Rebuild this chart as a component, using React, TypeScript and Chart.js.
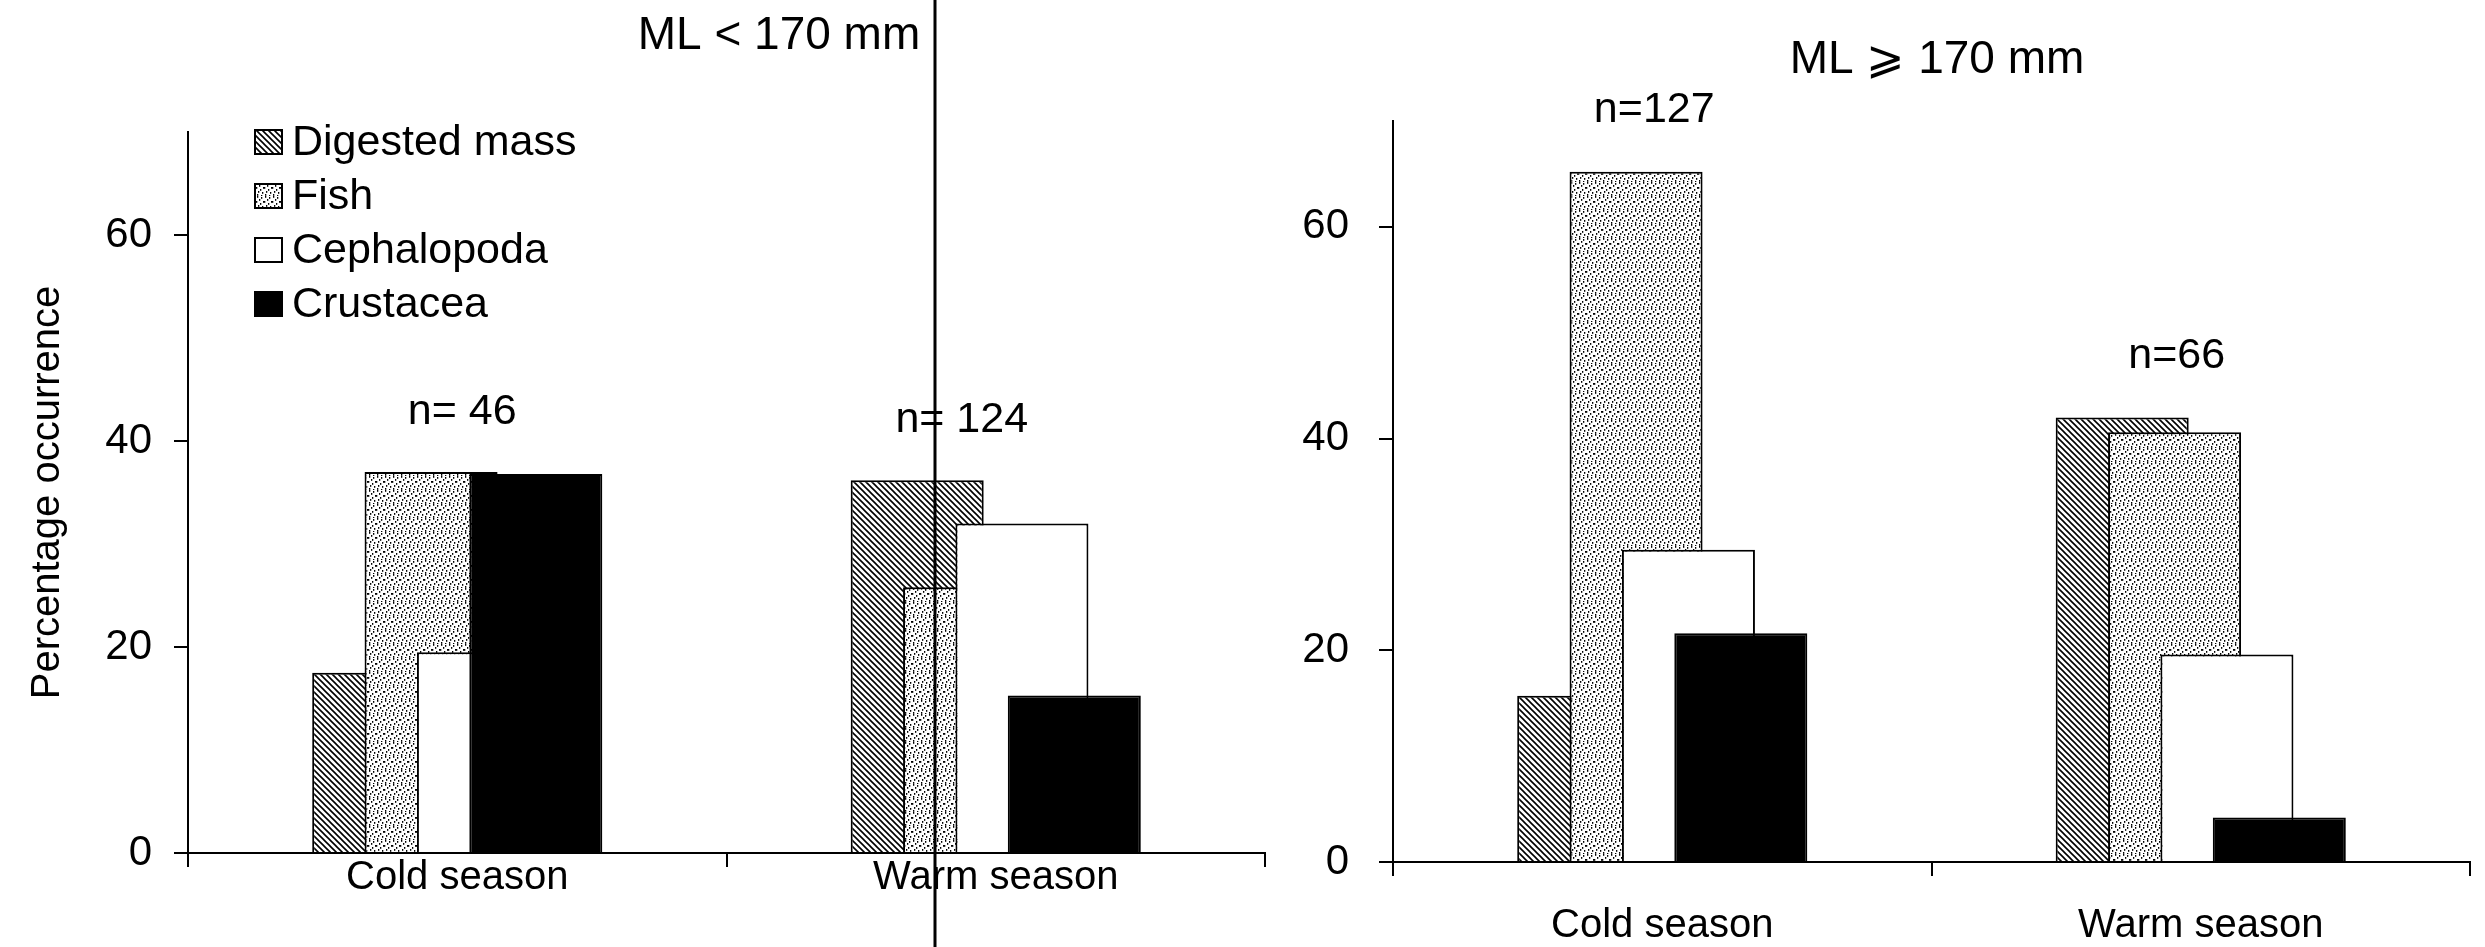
import React, { useEffect, useRef } from 'react';
import { Chart, registerables } from 'chart.js';

Chart.register(...registerables);

// ---------------- data ----------------
const categories = ['Cold season', 'Warm season'];
const seriesNames = ['Digested mass', 'Fish', 'Cephalopoda', 'Crustacea'];

// ML < 170 mm
const smallDigested = [17.5, 36.2];
const smallFish = [37.0, 25.8];
const smallCephalopoda = [19.5, 32.0];
const smallCrustacea = [36.8, 15.3];
const smallSampleSizes = ['n= 46', 'n= 124'];

// ML >= 170 mm
const largeDigested = [15.7, 42.0];
const largeFish = [65.2, 40.6];
const largeCephalopoda = [29.5, 19.6];
const largeCrustacea = [21.6, 4.2];
const largeSampleSizes = ['n=127', 'n=66'];

const yTickValues = [0, 20, 40, 60];
const yMax = 70;
const smallTitle = 'ML < 170 mm';
const largeTitle = 'ML \u2A7E 170 mm';
const yAxisTitle = 'Percentage occurrence';

// ---------------- styling ----------------
const FONT = '"Liberation Sans", Arial, Helvetica, sans-serif';
const N_OFFSET = 5.8; // value units above tallest bar of the group

function makeHatch(): CanvasPattern | string {
  const c = document.createElement('canvas');
  c.width = 6;
  c.height = 6;
  const g = c.getContext('2d');
  if (!g) return '#888';
  g.fillStyle = '#fff';
  g.fillRect(0, 0, 6, 6);
  g.strokeStyle = '#000';
  g.lineWidth = 1.6;
  g.beginPath();
  g.moveTo(-1, -1);
  g.lineTo(7, 7);
  g.moveTo(-1, 5);
  g.lineTo(1, 7);
  g.moveTo(5, -1);
  g.lineTo(7, 1);
  g.stroke();
  return g.createPattern(c, 'repeat') || '#888';
}

const dotCells = [
  [1, 0], [5, 1], [3, 3], [7, 5], [0, 5], [4, 7], [2, 9], [6, 10], [1, 12], [5, 13],
];

function makeDots(): CanvasPattern | string {
  const c = document.createElement('canvas');
  c.width = 8;
  c.height = 14;
  const g = c.getContext('2d');
  if (!g) return '#ddd';
  g.fillStyle = '#fff';
  g.fillRect(0, 0, 8, 14);
  g.fillStyle = '#000';
  dotCells.forEach(([x, y]) => g.fillRect(x, y, 1.3, 1.8));
  return g.createPattern(c, 'repeat') || '#ddd';
}

type PanelSpec = {
  canvasLeft: number;
  canvasWidth: number;
  padLeft: number;
  yAxisWidth: number;
  padRight: number;
  padTop: number;
  xAxisHeight: number;
  tickPadding: number;
  xLabelPadding: number;
  series: number[][];
  sampleSizes: string[];
  sampleShift: number[];
  title: string;
  titleX: number;
  titleY: number;
  showYTitle: boolean;
  showLegend: boolean;
  scanLineX?: number;
};

const HEIGHT = 947;

function Panel({ spec }: { spec: PanelSpec }) {
  const ref = useRef<HTMLCanvasElement | null>(null);

  useEffect(() => {
    const canvas = ref.current;
    if (!canvas) return;
    const fills = [makeHatch(), makeDots(), '#ffffff', '#000000'];

    const decor = {
      id: 'panelDecor',
      beforeDatasetsDraw(chart: any) {
        // draw datasets in order so later series overlap earlier ones
        for (let i = 0; i < chart.data.datasets.length; i++) {
          const meta = chart.getDatasetMeta(i);
          if (!meta.hidden) meta.controller.draw();
        }
        return false;
      },
      afterDraw(chart: any) {
        const ctx = chart.ctx as CanvasRenderingContext2D;
        const xs = chart.scales.x;
        const ys = chart.scales.y;
        ctx.save();
        ctx.fillStyle = '#000';
        ctx.textAlign = 'center';
        ctx.textBaseline = 'middle';

        // sample sizes
        ctx.font = `43px ${FONT}`;
        spec.sampleSizes.forEach((label, i) => {
          const top = Math.max(...spec.series.map((s) => s[i]));
          ctx.fillText(
            label,
            xs.getPixelForValue(i) + spec.sampleShift[i],
            ys.getPixelForValue(top + N_OFFSET)
          );
        });

        // panel title
        ctx.font = `46px ${FONT}`;
        ctx.fillText(spec.title, spec.titleX, spec.titleY);

        // legend
        if (spec.showLegend) {
          const bx = chart.chartArea.left + 67;
          const by0 = 142;
          const step = 54;
          ctx.textAlign = 'left';
          ctx.font = `43px ${FONT}`;
          chart.data.datasets.forEach((ds: any, i: number) => {
            const cy = by0 + i * step;
            ctx.fillStyle = ds.backgroundColor;
            ctx.fillRect(bx, cy - 12, 27, 24);
            ctx.strokeStyle = '#000';
            ctx.lineWidth = 2;
            ctx.strokeRect(bx, cy - 12, 27, 24);
            ctx.fillStyle = '#000';
            ctx.fillText(ds.label, bx + 37, cy + 1);
          });
        }

        // scan fold line
        if (spec.scanLineX !== undefined) {
          ctx.strokeStyle = '#000';
          ctx.lineWidth = 3;
          ctx.beginPath();
          ctx.moveTo(spec.scanLineX, 0);
          ctx.lineTo(spec.scanLineX, HEIGHT);
          ctx.stroke();
        }
        ctx.restore();
      },
    };

    const chart = new Chart(canvas, {
      type: 'bar',
      data: {
        labels: categories,
        datasets: seriesNames.map((name, k) => ({
          label: name,
          data: spec.series[k],
          backgroundColor: fills[k] as any,
          borderColor: '#000',
          borderWidth: 2,
          categoryPercentage: 0.389,
          barPercentage: 2.54,
        })),
      },
      options: {
        responsive: false,
        animation: false,
        devicePixelRatio: 1,
        layout: {
          padding: { left: spec.padLeft, right: spec.padRight, top: spec.padTop, bottom: 0 },
        },
        plugins: {
          legend: { display: false },
          tooltip: { enabled: false },
          title: { display: false },
        },
        scales: {
          x: {
            type: 'category',
            offset: true,
            grid: {
              offset: true,
              drawOnChartArea: false,
              drawTicks: true,
              tickLength: 14,
              color: '#000',
              lineWidth: 2,
            },
            border: { display: true, color: '#000', width: 2 },
            ticks: {
              color: '#000',
              font: { family: FONT, size: 40 },
              padding: spec.xLabelPadding,
              maxRotation: 0,
              autoSkip: false,
            },
            afterFit: (s: any) => {
              s.height = spec.xAxisHeight;
            },
          },
          y: {
            type: 'linear',
            min: 0,
            max: yMax,
            afterBuildTicks: (s: any) => {
              s.ticks = yTickValues.map((v) => ({ value: v }));
            },
            ticks: {
              color: '#000',
              font: { family: FONT, size: 42 },
              padding: spec.tickPadding,
              includeBounds: false,
            },
            grid: {
              drawOnChartArea: false,
              drawTicks: true,
              tickLength: 14,
              color: '#000',
              lineWidth: 2,
            },
            border: { display: true, color: '#000', width: 2 },
            title: {
              display: spec.showYTitle,
              text: yAxisTitle,
              color: '#000',
              font: { family: FONT, size: 40 },
              padding: { top: 4, bottom: 4 },
            },
            afterFit: (s: any) => {
              s.width = spec.yAxisWidth;
            },
          },
        },
      },
      plugins: [decor],
    } as any);

    return () => chart.destroy();
  }, [spec]);

  return (
    <canvas
      ref={ref}
      width={spec.canvasWidth}
      height={HEIGHT}
      style={{ position: 'absolute', left: spec.canvasLeft, top: 0, width: spec.canvasWidth, height: HEIGHT }}
    />
  );
}

const smallPanel: PanelSpec = {
  canvasLeft: 0,
  canvasWidth: 1290,
  padLeft: 20,
  yAxisWidth: 168,
  padRight: 25,
  padTop: 132,
  xAxisHeight: 94,
  tickPadding: 22,
  xLabelPadding: -13,
  series: [smallDigested, smallFish, smallCephalopoda, smallCrustacea],
  sampleSizes: smallSampleSizes,
  sampleShift: [5, -34],
  title: smallTitle,
  titleX: 779,
  titleY: 36,
  showYTitle: true,
  showLegend: true,
  scanLineX: 935,
};

const largePanel: PanelSpec = {
  canvasLeft: 1290,
  canvasWidth: 1195,
  padLeft: 0,
  yAxisWidth: 103,
  padRight: 15,
  padTop: 121,
  xAxisHeight: 85,
  tickPadding: 30,
  xLabelPadding: 26,
  series: [largeDigested, largeFish, largeCephalopoda, largeCrustacea],
  sampleSizes: largeSampleSizes,
  sampleShift: [-8, -24],
  title: largeTitle,
  titleX: 647,
  titleY: 60,
  showYTitle: false,
  showLegend: false,
};

export default function App() {
  return (
    <div
      style={{
        position: 'absolute',
        left: 0,
        top: 0,
        width: 2485,
        height: HEIGHT,
        background: '#fff',
        overflow: 'hidden',
      }}
    >
      <Panel spec={smallPanel} />
      <Panel spec={largePanel} />
    </div>
  );
}
